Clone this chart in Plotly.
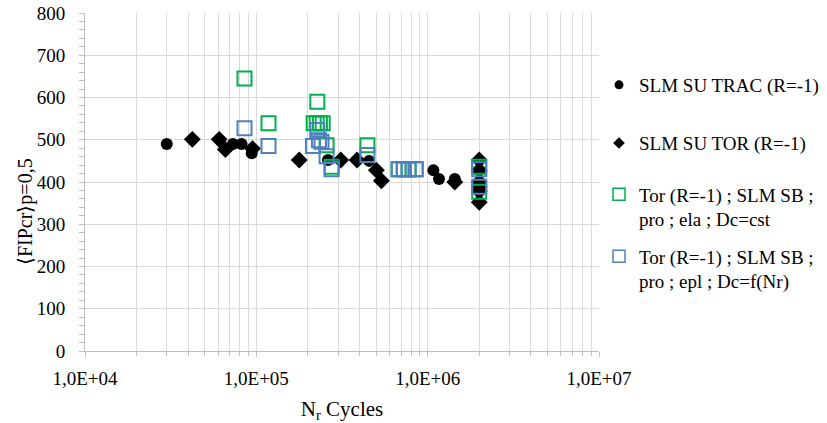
import plotly.graph_objects as go

# ---- data ----
trac_x = [30000, 73000, 82000, 94000, 262000, 455000, 1080000, 1165000, 1440000]
trac_y = [490, 490, 490, 468, 452, 450, 428, 407, 407]

tor_x = [42300, 60700, 66000, 95000, 178000, 311000, 387000, 502000, 537000, 1440000,
         2000000, 2000000, 2000000, 2000000, 2000000, 2000000]
tor_y = [501, 501, 477, 479, 452, 452, 452, 428, 403, 400,
         452, 428, 400, 388, 378, 352]

ela_x = [85300, 117800, 216000, 225000, 235000, 244000, 227000, 257000, 275000,
         445000, 677000, 725000, 774000, 851000, 2000000, 2000000]
ela_y = [645, 539, 539, 539, 539, 539, 590, 487, 436,
         487, 430, 430, 430, 430, 436, 377]

epl_x = [85300, 117800, 227000, 214000, 232000, 240000, 257000, 275000,
         445000, 677000, 725000, 774000, 851000, 2000000, 2000000]
epl_y = [527, 485, 523, 485, 499, 495, 461, 430,
         464, 430, 430, 430, 430, 430, 389]

names = ["SLM SU TRAC (R=-1)",
         "SLM SU TOR (R=-1)",
         "Tor (R=-1) ; SLM SB ;<br>pro ; ela ; Dc=cst",
         "Tor (R=-1) ; SLM SB ;<br>pro ; epl ; Dc=f(Nr)"]

x_tickvals = [1e4, 1e5, 1e6, 1e7]
x_ticktext = ["1,0E+04", "1,0E+05", "1,0E+06", "1,0E+07"]
x_minor = [m * 10 ** e for e in range(4, 7) for m in range(2, 10)]

y_title = "⟨FIPcr⟩p=0,5"
x_title = "N<sub>r</sub> Cycles"

FONT = "Liberation Serif"
GREEN = "#00B050"
BLUE = "#4F81BD"
GRID = "#d9d9d9"
AXIS = "#bfbfbf"

series = [
    (trac_x, trac_y, dict(symbol="circle", size=12, color="black"),
     dict(symbol="circle", size=9, color="black")),
    (tor_x, tor_y, dict(symbol="diamond", size=13, color="black"),
     dict(symbol="diamond", size=9, color="black")),
    (ela_x, ela_y, dict(symbol="square-open", size=14, color=GREEN, line=dict(width=2, color=GREEN)),
     dict(symbol="square-open", size=12, color=GREEN, line=dict(width=1.5, color=GREEN))),
    (epl_x, epl_y, dict(symbol="square-open", size=14, color=BLUE, line=dict(width=2, color=BLUE)),
     dict(symbol="square-open", size=12, color=BLUE, line=dict(width=1.5, color=BLUE))),
]
legend_ids = ["legend", "legend2", "legend3", "legend4"]

fig = go.Figure()
for (xs, ys, mk, lmk), name, lid in zip(series, names, legend_ids):
    fig.add_trace(go.Scatter(x=xs, y=ys, mode="markers", name=name, marker=mk,
                             showlegend=False, hoverinfo="x+y"))
    # legend-only entry with smaller symbol, as in the reference legend
    fig.add_trace(go.Scatter(x=[None], y=[None], mode="markers", name=name, marker=lmk,
                             legend=lid, showlegend=True))

leg_common = dict(xanchor="left", x=1.0, font=dict(family=FONT, size=19, color="black"),
                  bgcolor="rgba(0,0,0,0)", itemwidth=30, valign="top", yanchor="middle",
                  visible=True)

fig.update_layout(
    width=827, height=423,
    showlegend=True,
    margin=dict(l=85, r=228, t=13, b=72, autoexpand=False),
    paper_bgcolor="white", plot_bgcolor="white",
    font=dict(family=FONT, size=19, color="black"),
    legend=dict(**leg_common, y=0.787),
    legend2=dict(**leg_common, y=0.615),
    legend3=dict(**leg_common, y=0.426),
    legend4=dict(**leg_common, y=0.243),
    xaxis=dict(type="log", range=[4, 7], tickvals=x_tickvals, ticktext=x_ticktext,
               showgrid=True, gridcolor=GRID, gridwidth=1,
               showline=True, linecolor=AXIS, linewidth=1,
               ticks="outside", ticklen=5, tickcolor=AXIS,
               ticklabelstandoff=5,
               minor=dict(tickvals=x_minor, showgrid=True, gridcolor=GRID, gridwidth=1,
                          ticks="outside", ticklen=4, tickcolor=AXIS),
               tickfont=dict(family=FONT, size=19, color="black"),
               title=dict(text=x_title, font=dict(family=FONT, size=21), standoff=14),
               automargin=False, zeroline=False),
    yaxis=dict(range=[0, 800], dtick=100, showgrid=True, gridcolor=GRID, gridwidth=1,
               showline=True, linecolor=AXIS, linewidth=1,
               ticks="outside", ticklen=5, tickcolor=AXIS,
               ticklabelstandoff=10,
               minor=dict(dtick=20, ticks="outside", ticklen=5, tickcolor=AXIS,
                          showgrid=False),
               tickfont=dict(family=FONT, size=19, color="black"),
               automargin=False, zeroline=False),
    annotations=[dict(text=y_title, xref="paper", yref="paper", x=0, y=0.411,
                      xanchor="center", yanchor="middle", xshift=-60, textangle=-90,
                      showarrow=False, font=dict(family=FONT, size=20, color="black"))],
)

fig.write_html("out.html", config={"displayModeBar": False},
               post_script="document.body.style.margin='0';")
